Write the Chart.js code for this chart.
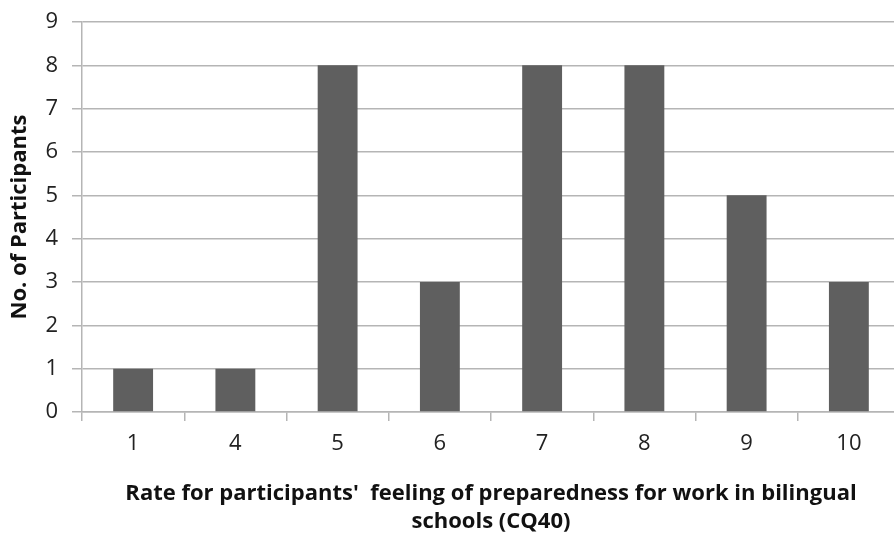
<!DOCTYPE html>
<html>
<head>
<meta charset="utf-8">
<script src="https://cdn.jsdelivr.net/npm/chart.js@4/dist/chart.umd.min.js"></script>
<style>
  html, body { margin: 0; padding: 0; background: #fff; overflow: hidden; }
  #wrap { width: 900px; height: 536px; }
</style>
</head>
<body>
<div id="wrap"><canvas id="graph"></canvas></div>
<script>
// categories (rate) and values
var rates = ['1', '4', '5', '6', '7', '8', '9', '10'];
var participants = [1, 1, 8, 3, 8, 8, 5, 3];
var yTicks = [0, 1, 2, 3, 4, 5, 6, 7, 8, 9];
var xTitle = ["Rate for participants'  feeling of preparedness for work in bilingual", 'schools (CQ40)'];
var yTitle = 'No. of Participants';

var drawGraph = function(){
  var ctx = document.getElementById('graph').getContext('2d');
  var gridColor = '#b5b5b5';
  var tickFont = { family: 'Open Sans', size: 22 };
  var titleFont = { family: 'Open Sans', size: 22, weight: 'bold', lineHeight: 1.28 };

  var bars = {
    label: 'Participants',
    data: participants,
    backgroundColor: '#5f5f5f',
    categoryPercentage: 1,
    barPercentage: 0.39
  };

  var option = {
    animation: false,
    responsive: true,
    maintainAspectRatio: false,
    layout: { padding: { top: 22, left: 0, right: 0, bottom: 0 } },
    plugins: { legend: { display: false }, tooltip: { enabled: false } },
    scales: {
      x: {
        grid: { offset: true, drawOnChartArea: false, drawTicks: true, tickLength: 9, color: gridColor, lineWidth: 1.5 },
        border: { color: gridColor, width: 1.5 },
        ticks: { color: '#222', font: tickFont, padding: 10 },
        title: { display: true, text: xTitle, color: '#111', font: titleFont, padding: { top: 10, bottom: 0 } },
        afterFit: function(scale){ scale.height = 124; scale.paddingLeft = 0; scale.paddingRight = 0; }
      },
      y: {
        min: 0, max: 9,
        afterBuildTicks: function(scale){ scale.ticks = yTicks.map(function(v){ return { value: v }; }); },
        grid: { color: gridColor, lineWidth: 1.5, tickLength: 10 },
        border: { color: gridColor, width: 1.5 },
        ticks: { color: '#222', font: tickFont, padding: 14 },
        title: { display: true, text: yTitle, color: '#111', font: titleFont, padding: { top: 6, bottom: 0 } },
        afterFit: function(scale){ scale.width = 82; scale.paddingTop = 0; scale.paddingBottom = 0; }
      }
    }
  };

  var config = {
    type: 'bar',
    data: { labels: rates, datasets: [bars] },
    options: option
  };
  var myChart = new Chart(ctx, config);
};

window.onload = function(){
  drawGraph();
};
</script>
</body>
</html>
